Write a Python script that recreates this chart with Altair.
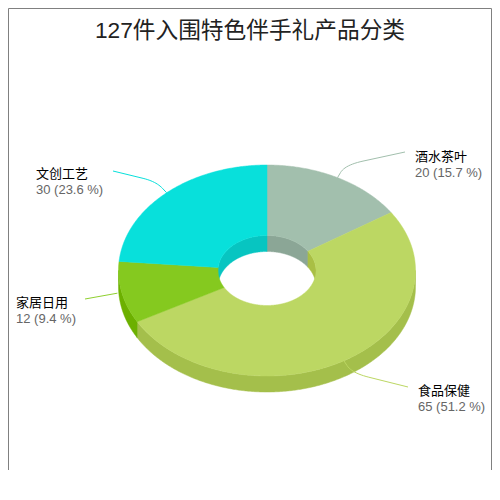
import math
import altair as alt

title_text = "127件入围特色伴手礼产品分类"
categories = ["酒水茶叶", "食品保健", "家居日用", "文创工艺"]
values = [20, 65, 12, 30]
top_colors = ["#a2bfad", "#bcd763", "#85c91f", "#08e0db"]
outer_wall_colors = ["#8ba696", "#a4bf4b", "#6cb000", "#07c5c1"]
inner_wall_colors = ["#8ba696", "#a9bf45", "#6cb000", "#07c5c1"]
line_colors = ["#a2bfad", "#bcd763", "#8fd02f", "#08e0db"]

# layout (page pixels)
CX, CY, RX, RY, RX_IN, RY_IN, DEPTH = 267.0, 270.5, 148.5, 105.5, 49.0, 35.0, 16.0
label_x = [415, 418, 16, 36]
label_y = [161, 395, 307, 178]
crank = [(345, 165), (352, 373), (None, None), (156, 181.5)]
line_end = [(405, 152), (408, 387), (85, 299), (113, 171)]
start_factor = [1.0, 1.0, 1.03, 1.0]


def pt(angle, rx, ry, dy=0.0):
    a = math.radians(angle)
    return [CX + rx * math.sin(a), CY - ry * math.cos(a) + dy]


def arc(a0, a1, rx, ry, dy=0.0):
    n = max(2, int(abs(a1 - a0) * 2))
    return [pt(a0 + (a1 - a0) * i / n, rx, ry, dy) for i in range(n + 1)]


def poly(ring, fill):
    return {
        "type": "Feature",
        "geometry": {"type": "Polygon", "coordinates": [ring + [ring[0]]]},
        "properties": {"fill": fill},
    }


def line(points, color):
    return {
        "type": "Feature",
        "geometry": {"type": "LineString", "coordinates": points},
        "properties": {"stroke": color},
    }


def rounded(p0, c, p1):
    a = [c[0] + (p0[0] - c[0]) * 0.6, c[1] + (p0[1] - c[1]) * 0.6]
    b = [c[0] + (p1[0] - c[0]) * 0.3, c[1] + (p1[1] - c[1]) * 0.3]
    curve = []
    for i in range(13):
        t = i / 12
        curve.append([
            (1 - t) ** 2 * a[0] + 2 * t * (1 - t) * c[0] + t * t * b[0],
            (1 - t) ** 2 * a[1] + 2 * t * (1 - t) * c[1] + t * t * b[1],
        ])
    return [p0] + curve + [list(p1)]


total = sum(values)
angles = [0.0]
for v in values:
    angles.append(angles[-1] + 360.0 * v / total)

outer, inner, tops, lines, texts = [], [], [], [], []
for i, cat in enumerate(categories):
    a0, a1 = angles[i], angles[i + 1]
    # visible outer wall: near half of the ellipse
    s, e = max(a0, 90), min(a1, 270)
    if s < e:
        outer.append(poly(arc(s, e, RX, RY) + arc(e, s, RX, RY, DEPTH), outer_wall_colors[i]))
    # visible inner wall: far half of the hole
    for s, e in ((max(a0, 0), min(a1, 90)), (max(a0, 270), min(a1, 360))):
        if s < e:
            inner.append(poly(arc(s, e, RX_IN, RY_IN) + arc(e, s, RX_IN, RY_IN, DEPTH), inner_wall_colors[i]))
    tops.append(poly(arc(a0, a1, RX, RY) + arc(a1, a0, RX_IN, RY_IN), top_colors[i]))

    mid = (a0 + a1) / 2
    p0 = pt(mid, RX * start_factor[i], RY * start_factor[i])
    if crank[i][0] is None:
        pts = [p0, list(line_end[i])]
    else:
        pts = rounded(p0, crank[i], line_end[i])
    lines.append(line(pts, line_colors[i]))

    pct = 100.0 * values[i] / total
    texts.append({"lon": label_x[i], "lat": label_y[i], "t": cat, "c": "#000000"})
    texts.append({"lon": label_x[i], "lat": label_y[i] + 16, "t": f"{values[i]} ({pct:.1f} %)", "c": "#666666"})

frame = [
    line([[8.5, 470], [8.5, 8.5], [491.5, 8.5], [491.5, 470]], "#808080"),
]

FONT = "Liberation Sans, Noto Sans CJK SC"

fills = (
    alt.Chart(alt.Data(values=outer + inner + tops))
    .mark_geoshape(strokeWidth=0.5, clip=False)
    .encode(
        fill=alt.Fill("properties.fill:N", scale=None),
        stroke=alt.Stroke("properties.fill:N", scale=None),
    )
)
strokes = (
    alt.Chart(alt.Data(values=lines + frame))
    .mark_geoshape(filled=False, strokeWidth=1, clip=False)
    .encode(stroke=alt.Stroke("properties.stroke:N", scale=None))
)
labels = (
    alt.Chart(alt.Data(values=texts))
    .mark_text(align="left", baseline="alphabetic", font=FONT, fontSize=13)
    .encode(
        longitude="lon:Q",
        latitude="lat:Q",
        text="t:N",
        color=alt.Color("c:N", scale=None),
    )
)

chart = (
    alt.layer(fills, strokes, labels)
    .project(type="identity", scale=1, translate=[-8, -48])
    .properties(
        width=484,
        height=430,
        padding={"top": 40, "left": 0, "right": 0, "bottom": 0},
        autosize=alt.AutoSizeParams(type="none"),
        title=alt.TitleParams(
            title_text,
            anchor="middle",
            font=FONT,
            fontSize=22.7,
            fontWeight="normal",
            color="#222222",
            offset=-36,
        ),
    )
    .configure_view(stroke=None)
)

chart.save("out.html", embed_options={"renderer": "svg", "actions": False})
